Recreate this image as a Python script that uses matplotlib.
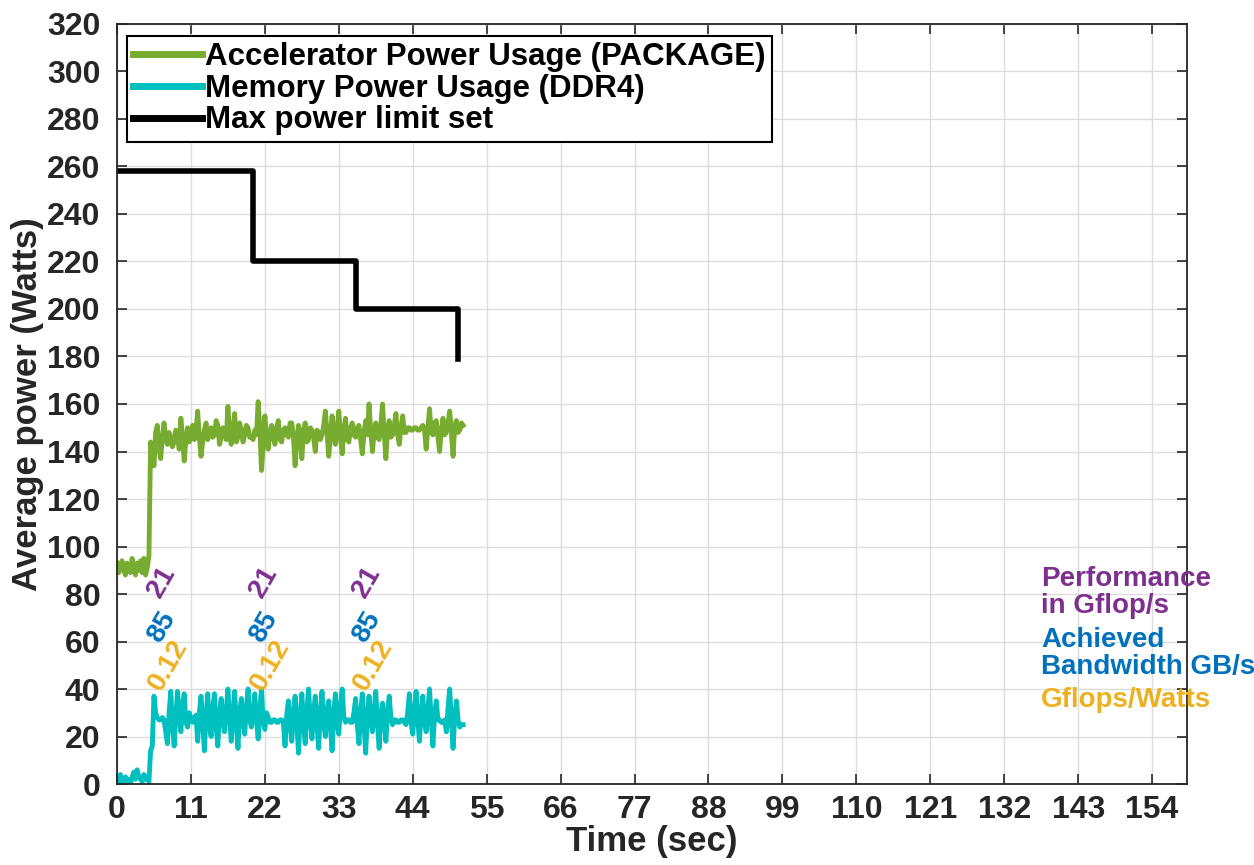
import numpy as np
import matplotlib
matplotlib.use('Agg')
import matplotlib.pyplot as plt

plt.rcParams['font.family'] = ['Liberation Sans', 'DejaVu Sans']

# samples every 0.25 s (one row = 2 s)
dt = 0.25
pkg_power = [93, 89, 91, 94, 90, 88, 93, 90,
             89, 95, 91, 88, 93, 90, 94, 89,
             95, 88, 91, 96, 144, 140, 134, 148,
             151, 141, 137, 146, 152, 145, 143, 148,
             146, 142, 144, 149, 147, 141, 154, 146,
             136, 145, 150, 144, 147, 151, 145, 148,
             157, 146, 138, 144, 149, 152, 145, 148,
             150, 146, 147, 153, 151, 143, 146, 150,
             149, 145, 159, 147, 143, 149, 156, 144,
             146, 152, 149, 144, 147, 151, 150, 146,
             146, 145, 149, 147, 161, 150, 132, 143,
             155, 146, 141, 148, 151, 146, 143, 150,
             153, 145, 144, 149, 150, 147, 146, 152,
             152, 146, 134, 145, 151, 147, 137, 149,
             152, 144, 145, 150, 149, 146, 140, 149,
             148, 145, 147, 151, 157, 148, 138, 146,
             155, 147, 143, 150, 157, 146, 139, 149,
             154, 145, 144, 150, 152, 147, 146, 150,
             151, 145, 139, 148, 153, 147, 160, 149,
             140, 148, 152, 146, 145, 151, 160, 148,
             137, 149, 153, 146, 147, 151, 156, 147,
             143, 150, 155, 148, 148, 150, 150, 149,
             149, 150, 150, 149, 149, 150, 151, 149,
             141, 150, 158, 148, 147, 152, 153, 146,
             140, 149, 154, 147, 148, 152, 157, 148,
             138, 151, 153, 148, 149, 152, 151]
ddr_power = [3, 1, 4, 0, 2, 3, 1, 2,
             0, 3, 5, 2, 6, 3, 2, 1,
             4, 2, 3, 1, 14, 16, 37, 30,
             28, 27, 27, 28, 27, 22, 17, 30,
             39, 25, 16, 28, 39, 30, 22, 33,
             38, 26, 24, 30, 28, 26, 27, 29,
             18, 30, 37, 26, 14, 29, 38, 25,
             20, 32, 38, 24, 16, 30, 36, 27,
             22, 31, 40, 28, 18, 29, 39, 26,
             15, 30, 36, 27, 21, 32, 40, 27,
             24, 30, 38, 27, 19, 31, 40, 26,
             23, 30, 28, 26, 26, 27, 27, 26,
             26, 27, 27, 26, 16, 29, 35, 25,
             18, 30, 37, 26, 13, 29, 38, 25,
             17, 31, 40, 27, 19, 30, 37, 25,
             15, 30, 39, 26, 20, 31, 35, 24,
             14, 30, 38, 25, 21, 33, 40, 28,
             26, 27, 27, 26, 26, 30, 36, 25,
             17, 30, 38, 26, 13, 29, 37, 27,
             22, 31, 39, 26, 15, 29, 34, 27,
             18, 30, 37, 28, 25, 27, 27, 26,
             26, 27, 27, 26, 25, 30, 38, 26,
             21, 31, 39, 27, 18, 30, 37, 26,
             22, 31, 40, 27, 16, 29, 35, 27,
             27, 26, 26, 27, 22, 32, 40, 26,
             15, 28, 35, 27, 24, 25, 25]

# power cap steps
cap_time = [0, 20.2, 35.5, 50.7]
cap_watts = [258, 220, 200, 179]

# annotation groups
ann_time = [6.6, 21.8, 37.2]
perf_txt = ['21', '21', '21']
bw_txt = ['85', '85', '85']
eff_txt = ['0.12', '0.12', '0.12']

xticks = [0, 11, 22, 33, 44, 55, 66, 77, 88, 99, 110, 121, 132, 143, 154]
yticks = list(range(0, 321, 20))

green = '#77AC30'
cyan = '#00BFBF'
purple = '#7E2F8E'
blue = '#0072BD'
orange = '#EDB120'
dark = '#262626'

t = np.arange(len(pkg_power)) * dt

fig = plt.figure(figsize=(12.54, 8.65), dpi=100)
ax = fig.add_axes([0.0933, 0.0936, 0.8533, 0.8787])

ax.plot(t, pkg_power, color=green, lw=3.5, label='Accelerator Power Usage (PACKAGE)')
ax.plot(t, ddr_power, color=cyan, lw=3.5, label='Memory Power Usage (DDR4)')
ax.plot(cap_time, cap_watts, color='black', lw=4, drawstyle='steps-post',
        label='Max power limit set')

for i in range(len(ann_time)):
    ax.text(ann_time[i], 85, perf_txt[i], color=purple, fontsize=20, fontweight='bold',
            rotation=60, ha='center', va='center')
    ax.text(ann_time[i], 66, bw_txt[i], color=blue, fontsize=20, fontweight='bold',
            rotation=60, ha='center', va='center')
    ax.text(ann_time[i] + 1.0, 50, eff_txt[i], color=orange, fontsize=20, fontweight='bold',
            rotation=60, ha='center', va='center')

ax.text(137.5, 80.5, 'Performance\nin Gflop/s', color=purple, fontsize=20,
        fontweight='bold', va='center', ha='left', linespacing=1.05)
ax.text(137.5, 55, 'Achieved\nBandwidth GB/s', color=blue, fontsize=20,
        fontweight='bold', va='center', ha='left', linespacing=1.05)
ax.text(137.5, 35.4, 'Gflops/Watts', color=orange, fontsize=20,
        fontweight='bold', va='center', ha='left')

ax.set_xlim(0, 159.2)
ax.set_ylim(0, 320)
ax.set_xticks(xticks)
ax.set_yticks(yticks)
ax.grid(True, color='#dcdcdc', lw=1)
ax.set_axisbelow(True)
ax.tick_params(direction='in', length=7, width=1.2, top=True, right=True,
               labelsize=23, colors=dark)
ax.tick_params(axis='y', pad=12)
ax.tick_params(axis='x', pad=8)
for lab in ax.get_xticklabels() + ax.get_yticklabels():
    lab.set_fontweight('bold')
for s in ax.spines.values():
    s.set_linewidth(1.3)
    s.set_color(dark)

ax.set_xlabel('Time (sec)', fontsize=25, fontweight='bold', color=dark, labelpad=0)
ax.set_ylabel('Average power (Watts)', fontsize=25, fontweight='bold', color=dark, labelpad=2)

leg = ax.legend(loc='upper left', bbox_to_anchor=(0.0093, 0.984), borderaxespad=0,
                prop={'weight': 'bold', 'size': 22.5}, handlelength=2.2,
                handletextpad=0.1, labelspacing=0.05, borderpad=0.2, fancybox=False,
                framealpha=1)
leg.get_frame().set_edgecolor('black')
leg.get_frame().set_linewidth(1.5)
for ln in leg.get_lines():
    ln.set_linewidth(5)

fig.savefig('out.png', dpi=100)
